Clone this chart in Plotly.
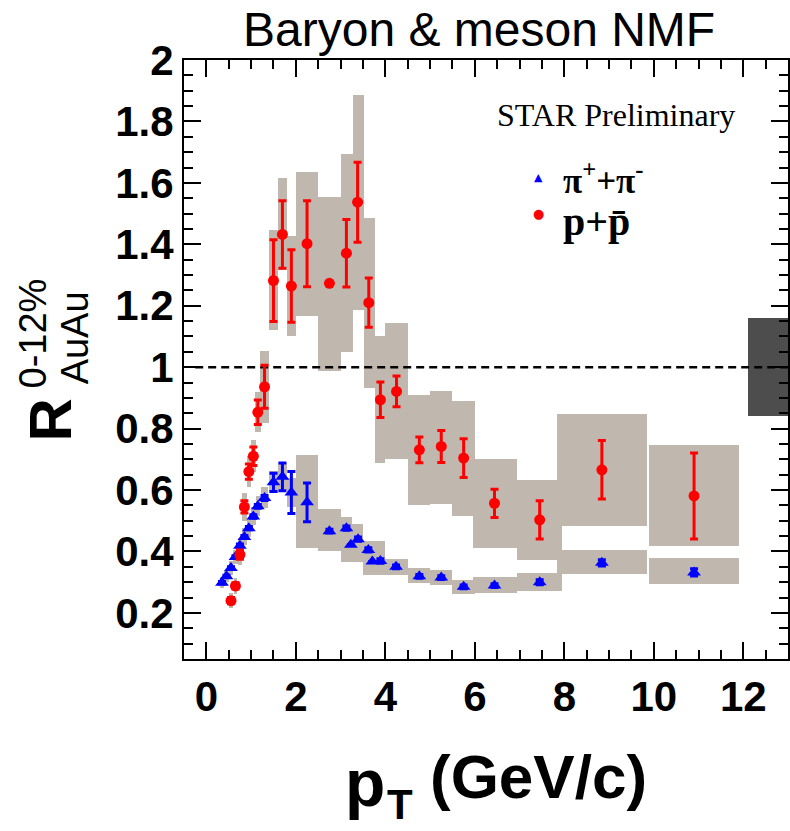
import plotly.graph_objects as go

# ---------------- data ----------------
# pi+ + pi-
pi_pt   = [0.35, 0.45, 0.55, 0.65, 0.75, 0.85, 0.95, 1.05, 1.15, 1.30, 1.50, 1.70, 1.90, 2.25,
           2.75, 3.23, 3.13, 3.39, 3.71, 3.62, 3.89, 4.24, 4.76, 5.25, 5.75, 6.44, 7.45, 8.84, 10.90]
pi_R    = [0.298, 0.319, 0.346, 0.382, 0.419, 0.447, 0.476, 0.514, 0.547, 0.574, 0.625, 0.643, 0.592, 0.560,
           0.466, 0.422, 0.476, 0.440, 0.367, 0.405, 0.369, 0.350, 0.319, 0.315, 0.285, 0.289, 0.300, 0.363, 0.332]
pi_stat = [0.004, 0.004, 0.004, 0.004, 0.005, 0.005, 0.005, 0.006, 0.006, 0.008, 0.030, 0.045, 0.068, 0.063,
           0.006, 0.0, 0.007, 0.007, 0.0, 0.007, 0.007, 0.006, 0.006, 0.006, 0.006, 0.006, 0.008, 0.010, 0.012]

# pion systematic boxes
pi_box_pt = [0.35, 0.45, 0.55, 0.65, 0.75, 0.85, 0.95, 1.05, 1.15, 1.30, 1.50, 1.70, 1.90, 2.25,
             2.75, 3.125, 3.375, 3.625, 3.875, 4.25, 4.75, 5.25, 5.75, 6.45, 7.45, 8.84, 10.90]
pi_box_dx = [0.05, 0.05, 0.05, 0.05, 0.05, 0.05, 0.05, 0.05, 0.05, 0.08, 0.10, 0.10, 0.10, 0.25,
             0.25, 0.125, 0.125, 0.125, 0.125, 0.25, 0.25, 0.25, 0.25, 0.50, 0.50, 1.00, 1.00]
pi_box_lo = [0.280, 0.300, 0.325, 0.360, 0.395, 0.420, 0.448, 0.485, 0.515, 0.540, 0.590, 0.600, 0.545, 0.411,
             0.403, 0.365, 0.365, 0.325, 0.325, 0.325, 0.298, 0.292, 0.260, 0.265, 0.273, 0.328, 0.294]
pi_box_hi = [0.318, 0.340, 0.368, 0.405, 0.445, 0.475, 0.505, 0.545, 0.580, 0.610, 0.662, 0.688, 0.640, 0.713,
             0.538, 0.512, 0.490, 0.433, 0.433, 0.377, 0.346, 0.341, 0.308, 0.316, 0.330, 0.406, 0.379]

# p + pbar
p_pt   = [0.55, 0.65, 0.75, 0.85, 0.95, 1.05, 1.15, 1.30, 1.50, 1.70, 1.90, 2.25,
          2.75, 3.13, 3.38, 3.63, 3.89, 4.25, 4.76, 5.25, 5.75, 6.44, 7.45, 8.84, 10.90]
p_R    = [0.240, 0.288, 0.390, 0.545, 0.660, 0.710, 0.853, 0.936, 1.282, 1.432, 1.264, 1.402,
          1.273, 1.371, 1.537, 1.210, 0.894, 0.921, 0.731, 0.742, 0.704, 0.557, 0.503, 0.666, 0.581]
p_stat = [0.010, 0.010, 0.015, 0.020, 0.025, 0.030, 0.040, 0.070, 0.133, 0.110, 0.118, 0.140,
          0.0, 0.110, 0.130, 0.080, 0.058, 0.050, 0.042, 0.052, 0.063, 0.046, 0.062, 0.095, 0.140]

p_box_pt = [0.55, 0.65, 0.75, 0.85, 0.95, 1.05, 1.15, 1.30, 1.51, 1.71, 1.91, 2.25,
            2.75, 3.135, 3.395, 3.645, 3.885, 4.25, 4.75, 5.25, 5.75, 6.45, 7.45, 8.84, 10.90]
p_box_dx = [0.04, 0.04, 0.05, 0.05, 0.05, 0.05, 0.06, 0.10, 0.10, 0.10, 0.10, 0.25,
            0.25, 0.135, 0.125, 0.125, 0.115, 0.25, 0.25, 0.25, 0.25, 0.50, 0.50, 1.00, 1.00]
p_box_lo = [0.215, 0.262, 0.355, 0.500, 0.610, 0.660, 0.790, 0.818, 1.122, 1.316, 1.102, 1.165,
            0.988, 1.049, 1.186, 0.932, 0.688, 0.700, 0.550, 0.555, 0.514, 0.411, 0.373, 0.482, 0.417]
p_box_hi = [0.265, 0.315, 0.425, 0.590, 0.712, 0.762, 0.920, 1.053, 1.447, 1.615, 1.427, 1.636,
            1.555, 1.693, 1.886, 1.487, 1.100, 1.143, 0.908, 0.921, 0.890, 0.702, 0.633, 0.848, 0.747]

# normalization uncertainty box and unity reference
norm_pt = [12.55]
norm_dx = [0.45]
norm_lo = [0.842]
norm_hi = [1.159]
unity_x = [-0.25, 13.0]
unity_y = [1.0, 1.0]

x_tickvals = [0, 2, 4, 6, 8, 10, 12]
y_tickvals = [0.2, 0.4, 0.6, 0.8, 1.0, 1.2, 1.4, 1.6, 1.8, 2.0]
y_ticktext = ["0.2", "0.4", "0.6", "0.8", "1", "1.2", "1.4", "1.6", "1.8", "2"]

# ---------------- style ----------------
W, H = 790, 831
ML, MR, MT, MB = 184, 0, 60, 172
GRAY = "#c0b8ae"
SANS = "Liberation Sans, Arial, Helvetica, sans-serif"
SERIF = "Liberation Serif, Times New Roman, DejaVu Serif, serif"


def px(xpix):
    return (xpix - ML) / (W - ML - MR)


def py(ypix):
    return (H - MB - ypix) / (H - MT - MB)


fig = go.Figure()

fig.add_trace(go.Bar(x=p_box_pt, base=p_box_lo, y=[h - l for h, l in zip(p_box_hi, p_box_lo)],
                     width=[2 * d for d in p_box_dx], marker=dict(color=GRAY, line=dict(width=0)),
                     showlegend=False, hoverinfo="skip"))
fig.add_trace(go.Bar(x=pi_box_pt, base=pi_box_lo, y=[h - l for h, l in zip(pi_box_hi, pi_box_lo)],
                     width=[2 * d for d in pi_box_dx], marker=dict(color=GRAY, line=dict(width=0)),
                     showlegend=False, hoverinfo="skip"))
fig.add_trace(go.Bar(x=norm_pt, base=norm_lo, y=[h - l for h, l in zip(norm_hi, norm_lo)],
                     width=[2 * d for d in norm_dx], marker=dict(color="#4d4d4d", line=dict(width=0)),
                     showlegend=False, hoverinfo="skip"))

fig.add_trace(go.Scatter(x=unity_x, y=unity_y, mode="lines",
                         line=dict(color="black", width=2.5, dash="8px,5px"),
                         showlegend=False, hoverinfo="skip"))

fig.add_trace(go.Scatter(x=pi_pt, y=pi_R, mode="markers",
                         marker=dict(symbol="triangle-up", size=12, color="#0000ff", line=dict(width=0)),
                         error_y=dict(type="data", array=pi_stat, color="#0000ff", thickness=3, width=4),
                         showlegend=False))
fig.add_trace(go.Scatter(x=p_pt, y=p_R, mode="markers",
                         marker=dict(symbol="circle", size=11, color="#ff0000", line=dict(width=0)),
                         error_y=dict(type="data", array=p_stat, color="#ff0000", thickness=3, width=4),
                         showlegend=False))

axis_common = dict(showline=True, linecolor="black", linewidth=2, mirror="ticks",
                   ticks="inside", tickcolor="black", tickwidth=2, ticklen=17,
                   showgrid=False, zeroline=False,
                   tickfont=dict(family=SANS, size=42, color="black", weight="bold"))

fig.update_layout(
    width=W, height=H, margin=dict(l=ML, r=MR, t=MT, b=MB, pad=0),
    paper_bgcolor="white", plot_bgcolor="white",
    barmode="overlay", bargap=0,
    xaxis=dict(range=[-0.5, 13.0], tickvals=x_tickvals,
               minor=dict(dtick=0.5, tick0=0, ticks="inside", ticklen=9, tickwidth=2, tickcolor="black"),
               **axis_common),
    yaxis=dict(range=[0.05, 2.0], tickvals=y_tickvals, ticktext=y_ticktext,
               minor=dict(dtick=0.05, tick0=0, ticks="inside", ticklen=9, tickwidth=2, tickcolor="black"),
               **axis_common),
)

ann = []
ann.append(dict(text="Baryon &amp; meson NMF", x=px(480), y=py(30), xref="paper", yref="paper",
                showarrow=False, font=dict(family=SANS, size=48, color="black"),
                xanchor="center", yanchor="middle"))
ann.append(dict(text="STAR Preliminary", x=px(496), y=py(115), xref="paper", yref="paper",
                showarrow=False, font=dict(family=SERIF, size=32, color="black"),
                xanchor="left", yanchor="middle"))
# legend
ann.append(dict(text="▲", x=px(540), y=py(177), xref="paper", yref="paper", showarrow=False,
                font=dict(family="DejaVu Sans", size=11, color="#0000ff"), xanchor="center", yanchor="middle"))
ann.append(dict(text="●", x=px(540), y=py(214), xref="paper", yref="paper", showarrow=False,
                font=dict(family="DejaVu Sans", size=13, color="#ff0000"), xanchor="center", yanchor="middle"))
ann.append(dict(text="<b>π<sup>+</sup>+π<sup>-</sup></b>", x=px(562), y=py(178), xref="paper", yref="paper",
                showarrow=False, font=dict(family=SERIF, size=35, color="black"),
                xanchor="left", yanchor="middle"))
ann.append(dict(text="<b>p+p\u0304</b>", x=px(562), y=py(221), xref="paper", yref="paper",
                showarrow=False, font=dict(family=SERIF, size=40, color="black"),
                xanchor="left", yanchor="middle"))
# y title
ann.append(dict(text="<b>R</b>", x=px(50), y=py(420), xref="paper", yref="paper", showarrow=False,
                textangle=-90, font=dict(family=SANS, size=60, color="black"),
                xanchor="center", yanchor="middle"))
ann.append(dict(text="0-12%", x=px(33), y=py(333), xref="paper", yref="paper", showarrow=False,
                textangle=-90, font=dict(family=SANS, size=38, color="black"),
                xanchor="center", yanchor="middle"))
ann.append(dict(text="AuAu", x=px(75), y=py(338), xref="paper", yref="paper", showarrow=False,
                textangle=-90, font=dict(family=SANS, size=38, color="black"),
                xanchor="center", yanchor="middle"))
# x title: p, subscript T, (GeV/c)
ann.append(dict(text="<b>p</b>", x=px(344), y=py(783), xref="paper", yref="paper",
                showarrow=False, font=dict(family=SANS, size=66, color="black"),
                xanchor="left", yanchor="middle"))
ann.append(dict(text="<b>T</b>", x=px(386), y=py(804), xref="paper", yref="paper",
                showarrow=False, font=dict(family=SANS, size=42, color="black"),
                xanchor="left", yanchor="middle"))
ann.append(dict(text="<b>(GeV/c)</b>", x=px(651), y=py(776), xref="paper", yref="paper",
                showarrow=False, font=dict(family=SANS, size=62, color="black"),
                xanchor="right", yanchor="middle"))
fig.update_layout(annotations=ann)

fig.write_html("out.html")
